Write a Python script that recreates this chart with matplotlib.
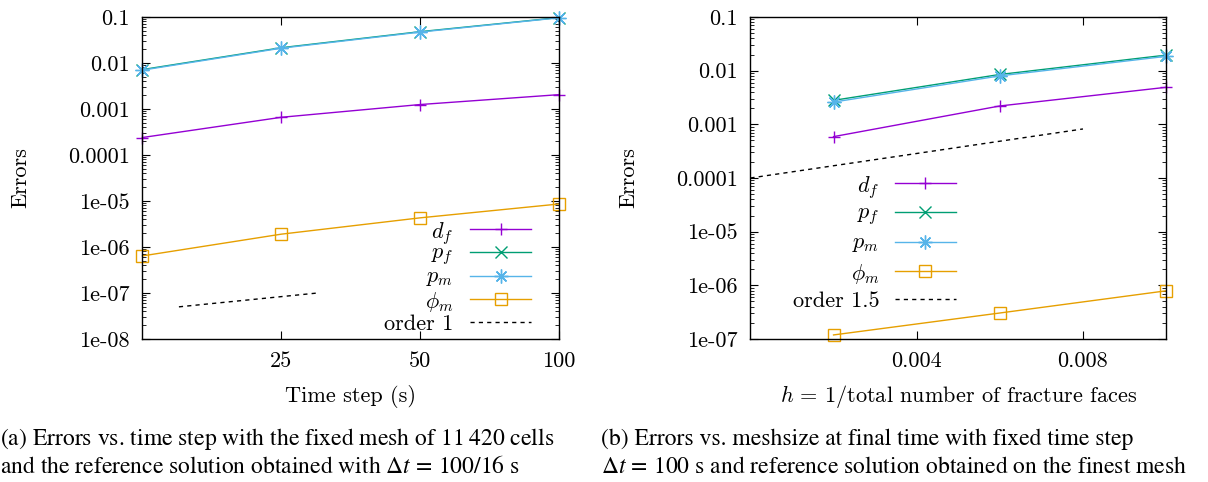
import matplotlib
matplotlib.use("Agg")
import matplotlib.pyplot as plt
from matplotlib.ticker import FixedLocator, FuncFormatter, LogLocator, NullLocator

plt.rcParams['font.family'] = 'cmr10'
plt.rcParams['mathtext.fontset'] = 'cm'
plt.rcParams['axes.unicode_minus'] = False

'''data - (a) errors vs. time step'''
dt_steps = [12.5, 25, 50, 100]
err_df_dt = [2.4e-4, 6.6e-4, 1.25e-3, 2.05e-3]
err_pf_dt = [7.2e-3, 2.15e-2, 4.8e-2, 9.7e-2]
err_pm_dt = [7.0e-3, 2.1e-2, 4.7e-2, 9.6e-2]
err_phim_dt = [6.4e-7, 1.9e-6, 4.3e-6, 8.6e-6]
order1_x = [15, 30]
order1_y = [5e-8, 1e-7]

'''data - (b) errors vs. mesh size'''
h_sizes = [0.002, 0.006, 0.01]
err_df_h = [5.9e-4, 2.2e-3, 4.9e-3]
err_pf_h = [2.8e-3, 8.5e-3, 1.95e-2]
err_pm_h = [2.6e-3, 8.0e-3, 1.85e-2]
err_phim_h = [1.19e-7, 3.05e-7, 7.9e-7]
order15_x = [0.0, 0.008]
order15_y = [1e-4, 8.2e-4]

series_labels = [r'$d_f$', r'$p_f$', r'$p_m$', r'$\phi_m$']
series_colors = ['#9400d3', '#009e73', '#56b4e9', '#e69f00']
series_markers = ['+', 'x', (8, 2, 0), 's']
series_ms = [9, 8, 10, 8]

FS = 16      # tick / key / label font size
LW = 1.0


def style_axis(ax):
    ax.set_yscale('log')
    ax.yaxis.set_major_locator(LogLocator(base=10, numticks=20))
    ax.yaxis.set_minor_locator(LogLocator(base=10, subs=range(2, 10), numticks=20))
    fmt = FuncFormatter(lambda v, p: '%g' % v)
    ax.yaxis.set_major_formatter(fmt)
    ax.xaxis.set_major_formatter(fmt)
    ax.tick_params(which='both', direction='in', top=True, right=True)
    ax.tick_params(which='major', length=6, width=0.8, labelsize=FS, pad=9)
    ax.tick_params(which='minor', length=3, width=0.6)
    for sp in ax.spines.values():
        sp.set_linewidth(1.0)


def draw_key(ax, labels, colors, markers, sizes, x_text, x0, x1, rows):
    # gnuplot style key: label right-aligned, sample on the right
    for lab, col, mk, ms, y in zip(labels, colors, markers, sizes, rows):
        ax.text(x_text, y, lab, transform=ax.transAxes, ha='right',
                va='center_baseline', fontsize=FS)
        ls = '--' if mk is None else '-'
        ax.plot([x0, x1], [y, y], transform=ax.transAxes, color=col, lw=LW,
                ls=ls, dashes=(3, 3) if mk is None else (None, None), clip_on=False)
        if mk is not None:
            ax.plot([(x0 + x1) / 2], [y], transform=ax.transAxes, color=col,
                    marker=mk, ms=ms, mfc='none', mew=LW, clip_on=False)


fig = plt.figure(figsize=(12.08, 4.82), dpi=100)
ax1 = fig.add_axes([0.1179, 0.2967, 0.3446, 0.668])
ax2 = fig.add_axes([0.6212, 0.2967, 0.3441, 0.668])

'''(a) time step'''
for ys, col, mk, ms in zip([err_df_dt, err_pf_dt, err_pm_dt, err_phim_dt],
                           series_colors, series_markers, series_ms):
    ax1.plot(dt_steps, ys, color=col, marker=mk, ms=ms, mfc='none', mew=LW, lw=LW, clip_on=False)
ax1.plot(order1_x, order1_y, color='black', ls='--', dashes=(3, 3), lw=LW)
ax1.set_xscale('log', base=2)
style_axis(ax1)
ax1.set_xlim(12.5, 100)
ax1.set_ylim(1e-8, 0.1)
ax1.xaxis.set_major_locator(FixedLocator([25, 50, 100]))
ax1.xaxis.set_minor_locator(NullLocator())
draw_key(ax1, series_labels + ['order 1'], series_colors + ['black'],
         series_markers + [None], series_ms + [0],
         0.747, 0.787, 0.934, [0.3416, 0.2692, 0.1966, 0.1252, 0.0528])

'''(b) mesh size'''
for ys, col, mk, ms in zip([err_df_h, err_pf_h, err_pm_h, err_phim_h],
                           series_colors, series_markers, series_ms):
    ax2.plot(h_sizes, ys, color=col, marker=mk, ms=ms, mfc='none', mew=LW, lw=LW, clip_on=False)
ax2.plot(order15_x, order15_y, color='black', ls='--', dashes=(3, 3), lw=LW)
style_axis(ax2)
ax2.set_xlim(0, 0.01)
ax2.set_ylim(1e-7, 0.1)
ax2.xaxis.set_major_locator(FixedLocator([0.004, 0.008]))
ax2.xaxis.set_minor_locator(NullLocator())
draw_key(ax2, series_labels + ['order 1.5'], series_colors + ['black'],
         series_markers + [None], series_ms + [0],
         0.31, 0.347, 0.494, [0.4854, 0.3935, 0.3022, 0.2121, 0.1233])

'''axis labels'''
fig.text(0.0168, 0.6317, 'Errors', rotation=90, ha='center', va='center', fontsize=FS)
fig.text(0.5207, 0.6317, 'Errors', rotation=90, ha='center', va='center', fontsize=FS)
fig.text(0.2902, 0.166, 'Time step (s)', ha='center', va='baseline', fontsize=FS)
fig.text(0.7933, 0.166, r'$h\,=\,1/$total number of fracture faces', ha='center',
         va='baseline', fontsize=FS)

'''captions'''
cap = dict(fontsize=17, family='STIXGeneral', math_fontfamily='stix', va='baseline', ha='left')
fig.text(0.0, 0.0768, r'(a) Errors vs. time step with the fixed mesh of 11$\;$420 cells', **cap)
fig.text(0.0, 0.018, r'and the reference solution obtained with $\Delta t\,=\,100/16$ s', **cap)
fig.text(0.4977, 0.0768, '(b) Errors vs. meshsize at final time with fixed time step', **cap)
fig.text(0.4977, 0.018, r'$\Delta t\,=\,100$ s and reference solution obtained on the finest mesh', **cap)

fig.savefig('out.png', dpi=100)
